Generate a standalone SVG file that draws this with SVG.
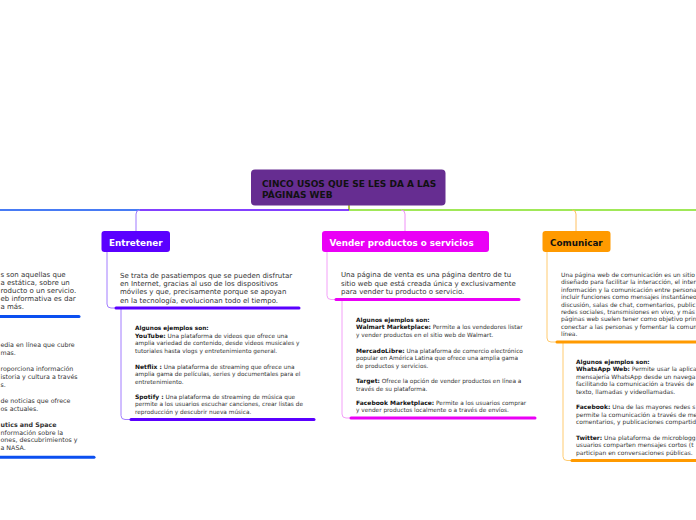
<svg xmlns="http://www.w3.org/2000/svg" width="696" height="520" viewBox="0 0 696 520">
<style>
text{font-family:"DejaVu Sans",Verdana,sans-serif}
.title{font-weight:bold;font-size:9px;fill:#111}
.main{font-weight:bold;font-size:8.8px}
.desc{font-size:7px;fill:#333}
.ex{font-size:5.8px;fill:#333}
.exc{font-size:6px;fill:#333}
.exl{font-size:6.3px;fill:#333}
.hd{font-weight:bold;font-size:5.8px;fill:#111}
.lb{font-weight:bold;font-size:6px;fill:#111}
.thin{fill:none;stroke-width:1}
.ul{fill:none;stroke-width:3;stroke-linecap:round}
</style>
<rect width="696" height="520" fill="#fff"/>
<g id="connectors">
<line x1="349" y1="205" x2="349" y2="210" stroke="#9aaa10" stroke-width="1.5"/>
<line x1="0" y1="210" x2="140" y2="210" stroke="#0b4ff0" stroke-width="1.5"/>
<line x1="349" y1="210" x2="140" y2="210" stroke="#5a00ff" stroke-width="1.5"/>
<path class="thin" d="M140,210 Q136,210 136,214 V231" stroke="#9f78ff"/>
<line x1="349" y1="210" x2="696" y2="210" stroke="#80e020" stroke-width="1.5"/>
<path class="thin" d="M401,210 Q405,210 405,214 V231" stroke="#f090f8"/>
<path class="thin" d="M572,210 Q576,210 576,214 V231" stroke="#ffc060"/>
<path class="thin" d="M107,252 V304 Q107,308 111,308 H116" stroke="#a27dff"/>
<path class="thin" d="M121,309 V415.5 Q121,419.5 125,419.5 H131" stroke="#a27dff"/>
<path class="thin" d="M327,252 V295.5 Q327,299.5 331,299.5 H336" stroke="#f3a0f8"/>
<path class="thin" d="M342,300 V414 Q342,418 346,418 H351" stroke="#f3a0f8"/>
<path class="thin" d="M547,252 V338 Q547,342 551,342 H557" stroke="#ffcb70"/>
<path class="thin" d="M563,343 V456.5 Q563,460.5 567,460.5 H572" stroke="#ffcb70"/>
</g>
<g id="node-root">
<rect x="251" y="169.5" width="194.5" height="36" rx="4" fill="#662d91"/>
<text class="title" x="262" y="187">CINCO USOS QUE SE LES DA A LAS</text>
<text class="title" x="262" y="197.5">PÁGINAS WEB</text>
</g>
<g id="node-entretener">
<rect x="101.5" y="231" width="68.5" height="21" rx="3" fill="#5a00ff"/>
<text class="main" x="109" y="245.5" fill="#fff">Entretener</text>
</g>
<g id="node-vender">
<rect x="322" y="231" width="167" height="21" rx="3" fill="#ea00f6"/>
<text class="main" x="329.5" y="245.5" fill="#fff">Vender productos o servicios</text>
</g>
<g id="node-comunicar">
<rect x="542.5" y="231" width="68" height="21" rx="3" fill="#ff9a00"/>
<text class="main" x="550" y="245.5" fill="#111">Comunicar</text>
</g>
<g id="node-entretener-desc">
<text class="desc" x="120" y="277.5">Se trata de pasatiempos que se pueden disfrutar</text>
<text class="desc" x="120" y="286">en Internet, gracias al uso de los dispositivos</text>
<text class="desc" x="120" y="294.3">móviles y que, precisamente porque se apoyan</text>
<text class="desc" x="120" y="302.6">en la tecnología, evolucionan todo el tiempo.</text>
<line class="ul" x1="116" y1="308" x2="299" y2="308" stroke="#5a00ff"/>
</g>
<g id="node-entretener-ejemplos">
<text class="hd" x="135" y="330">Algunos ejemplos son:</text>
<text class="ex" x="135" y="337.5"><tspan class="lb">YouTube:</tspan> Una plataforma de videos que ofrece una</text>
<text class="ex" x="135" y="345.2">amplia variedad de contenido, desde videos musicales y</text>
<text class="ex" x="135" y="352.9">tutoriales hasta vlogs y entretenimiento general.</text>
<text class="ex" x="135" y="368.5"><tspan class="lb">Netflix :</tspan> Una plataforma de streaming que ofrece una</text>
<text class="ex" x="135" y="376.2">amplia gama de películas, series y documentales para el</text>
<text class="ex" x="135" y="383.9">entretenimiento.</text>
<text class="ex" x="135" y="398.5"><tspan class="lb">Spotify :</tspan> Una plataforma de streaming de música que</text>
<text class="ex" x="135" y="406.2">permite a los usuarios escuchar canciones, crear listas de</text>
<text class="ex" x="135" y="413.9">reproducción y descubrir nueva música.</text>
<line class="ul" x1="131" y1="419.5" x2="314" y2="419.5" stroke="#5a00ff"/>
</g>
<g id="node-vender-desc">
<text class="desc" x="341" y="277.3">Una página de venta es una página dentro de tu</text>
<text class="desc" x="341" y="285.7">sitio web que está creada única y exclusivamente</text>
<text class="desc" x="341" y="294">para vender tu producto o servicio.</text>
<line class="ul" x1="336" y1="299.5" x2="519" y2="299.5" stroke="#ea00f6"/>
</g>
<g id="node-vender-ejemplos">
<text class="hd" x="356" y="321.5">Algunos ejemplos son:</text>
<text class="ex" x="356" y="329"><tspan class="lb">Walmart Marketplace:</tspan> Permite a los vendedores listar</text>
<text class="ex" x="356" y="336.7">y vender productos en el sitio web de Walmart.</text>
<text class="ex" x="356" y="352.5"><tspan class="lb">MercadoLibre:</tspan> Una plataforma de comercio electrónico</text>
<text class="ex" x="356" y="360.2">popular en América Latina que ofrece una amplia gama</text>
<text class="ex" x="356" y="367.9">de productos y servicios.</text>
<text class="ex" x="356" y="383"><tspan class="lb">Target:</tspan> Ofrece la opción de vender productos en línea a</text>
<text class="ex" x="356" y="390.7">través de su plataforma.</text>
<text class="ex" x="356" y="404.5"><tspan class="lb">Facebook Marketplace:</tspan> Permite a los usuarios comprar</text>
<text class="ex" x="356" y="412.2">y vender productos localmente o a través de envíos.</text>
<line class="ul" x1="351" y1="418" x2="535" y2="418" stroke="#ea00f6"/>
</g>
<g id="node-comunicar-desc">
<text class="exc" x="561" y="277">Una página web de comunicación es un sitio</text>
<text class="exc" x="561" y="284.4">diseñado para facilitar la interacción, el inter</text>
<text class="exc" x="561" y="291.8">información y la comunicación entre persona</text>
<text class="exc" x="561" y="299.2">incluir funciones como mensajes instantáneo</text>
<text class="exc" x="561" y="306.6">discusión, salas de chat, comentarios, public</text>
<text class="exc" x="561" y="314">redes sociales, transmisiones en vivo, y más</text>
<text class="exc" x="561" y="321.4">páginas web suelen tener como objetivo prin</text>
<text class="exc" x="561" y="328.8">conectar a las personas y fomentar la comun</text>
<text class="exc" x="561" y="336.2">línea.</text>
<line class="ul" x1="557" y1="342" x2="700" y2="342" stroke="#ff9a00"/>
</g>
<g id="node-comunicar-ejemplos">
<text class="hd" x="576" y="364">Algunos ejemplos son:</text>
<text class="exc" x="576" y="371"><tspan class="lb">WhatsApp Web:</tspan> Permite usar la aplica</text>
<text class="exc" x="576" y="378.5">mensajería WhatsApp desde un navega</text>
<text class="exc" x="576" y="386">facilitando la comunicación a través de</text>
<text class="exc" x="576" y="393.5">texto, llamadas y videollamadas.</text>
<text class="exc" x="576" y="409"><tspan class="lb">Facebook:</tspan> Una de las mayores redes s</text>
<text class="exc" x="576" y="416.5">permite la comunicación a través de me</text>
<text class="exc" x="576" y="424">comentarios, y publicaciones compartid</text>
<text class="exc" x="576" y="439.5"><tspan class="lb">Twitter:</tspan> Una plataforma de microblogg</text>
<text class="exc" x="576" y="447">usuarios comparten mensajes cortos (t</text>
<text class="exc" x="576" y="454.5">participan en conversaciones públicas.</text>
<line class="ul" x1="572" y1="460.5" x2="700" y2="460.5" stroke="#ff9a00"/>
</g>
<g id="node-left-desc">
<text class="desc" x="0.5" y="276.5">s son aquellas que</text>
<text class="desc" x="0.5" y="285">a estática, sobre un</text>
<text class="desc" x="0.5" y="293">roducto o un servicio.</text>
<text class="desc" x="0.5" y="300.8">eb informativa es dar</text>
<text class="desc" x="0.5" y="308.5">a más.</text>
<line class="ul" x1="-4" y1="316.5" x2="79" y2="316.5" stroke="#0b4ff0"/>
</g>
<g id="node-left-ejemplos">
<text class="exl" x="0.5" y="347">edia en línea que cubre</text>
<text class="exl" x="0.5" y="355">mas.</text>
<text class="exl" x="0.5" y="371">roporciona información</text>
<text class="exl" x="0.5" y="379">istoria y cultura a través</text>
<text class="exl" x="0.5" y="386.5">s.</text>
<text class="exl" x="0.5" y="403">de noticias que ofrece</text>
<text class="exl" x="0.5" y="411">os actuales.</text>
<text class="exl" x="0.5" y="427" font-weight="bold" fill="#111">utics and Space</text>
<text class="exl" x="0.5" y="434.5">nformación sobre la</text>
<text class="exl" x="0.5" y="442">ones, descubrimientos y</text>
<text class="exl" x="0.5" y="449.5">a NASA.</text>
<line class="ul" x1="-4" y1="457.3" x2="94" y2="457.3" stroke="#0b4ff0"/>
</g>
</svg>
